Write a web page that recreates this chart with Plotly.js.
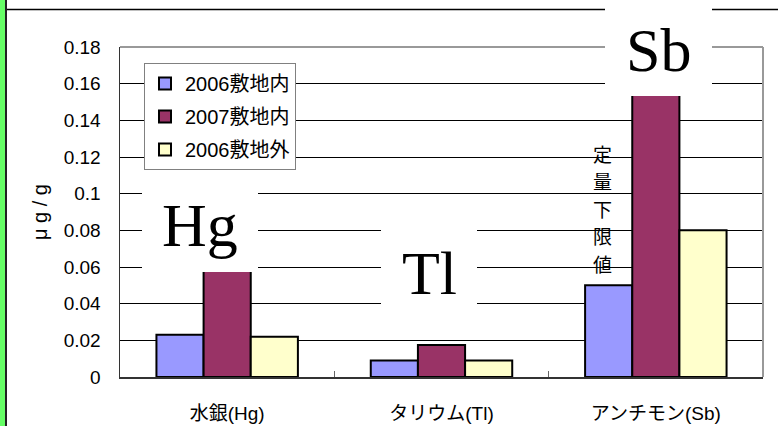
<!DOCTYPE html>
<html>
<head>
<meta charset="utf-8">
<script src="https://cdn.plot.ly/plotly-3.0.1.min.js"></script>
<style>html,body{margin:0;padding:0;background:#fff;}#chart{width:778px;height:426px;}</style>
</head>
<body>
<div id="chart"></div>
<script>
// ---- data ----
const categories = ['水銀(Hg)', 'タリウム(Tl)', 'アンチモン(Sb)'];
const seriesNames = ['2006敷地内', '2007敷地内', '2006敷地外'];
const values2006in = [0.023, 0.009, 0.050];
const values2007in = [0.058, 0.0175, 0.160];
const values2006out = [0.022, 0.009, 0.080];
const yTickVals = [0, 0.02, 0.04, 0.06, 0.08, 0.1, 0.12, 0.14, 0.16, 0.18];
const yTickText = ['0', '0.02', '0.04', '0.06', '0.08', '0.1', '0.12', '0.14', '0.16', '0.18'];
const elementLabels = ['Hg', 'Tl', 'Sb'];
const lodChars = ['定', '量', '下', '限', '値'];
const yTitle = 'μ g / g';

// ---- styling / layout geometry ----
const W = 778, H = 426;
const M = {l: 120, r: 15, t: 47, b: 49};
const PW = W - M.l - M.r, PH = H - M.t - M.b;
const px = x => (x - M.l) / PW;
const py = y => (H - M.b - y) / PH;
const colors = ['#9999FF', '#993366', '#FFFFCC'];
const sans = 'Liberation Sans, Arial, Noto Sans CJK JP, sans-serif';

const seriesValues = [values2006in, values2007in, values2006out];
const traces = seriesValues.map((vals, i) => ({
  type: 'bar',
  name: seriesNames[i],
  x: categories,
  y: vals,
  legendgroup: 'g' + i,
  marker: {color: colors[i], line: {color: '#000', width: 2}}
}));

// label boxes (pixel rects) and text centres
const labelBoxes = [
  {x0: 142, x1: 258, y0: 175, y1: 272, cx: 200, cy: 225},
  {x0: 381, x1: 477, y0: 205, y1: 320, cx: 429, cy: 273},
  {x0: 605, x1: 712, y0: 0, y1: 96, cx: 658, cy: 50}
];

const shapes = [
  {type: 'rect', xref: 'paper', yref: 'paper', x0: px(0), x1: px(5), y0: py(0), y1: py(H), fillcolor: '#66FF66', line: {width: 0}},
  {type: 'line', xref: 'paper', yref: 'paper', x0: px(6), x1: px(6), y0: py(0), y1: py(H), line: {color: '#222', width: 2}},
  {type: 'line', xref: 'paper', yref: 'paper', x0: px(7), x1: px(W), y0: py(9.5), y1: py(9.5), line: {color: '#000', width: 1.5}},
  {type: 'line', xref: 'paper', yref: 'paper', x0: 0, x1: 1, y0: 1, y1: 1, line: {color: '#999', width: 2}, layer: 'above'},
  {type: 'line', xref: 'paper', yref: 'paper', x0: 1, x1: 1, y0: 0, y1: 1, line: {color: '#999', width: 2}, layer: 'above'}
];
labelBoxes.forEach(b => shapes.push({
  type: 'rect', xref: 'paper', yref: 'paper', layer: 'above',
  x0: px(b.x0), x1: px(b.x1), y0: py(b.y1), y1: py(b.y0),
  fillcolor: '#fff', line: {width: 0}
}));

const annotations = [];
labelBoxes.forEach((b, i) => annotations.push({
  xref: 'paper', yref: 'paper', x: px(b.cx), y: py(b.cy),
  xanchor: 'center', yanchor: 'middle', showarrow: false,
  text: elementLabels[i],
  font: {family: 'Liberation Serif, Times New Roman, serif', size: 62, color: '#000'}
}));
lodChars.forEach((c, i) => annotations.push({
  xref: 'paper', yref: 'paper', x: px(602), y: py(153 + i * 27.5),
  xanchor: 'center', yanchor: 'middle', showarrow: false,
  text: c, font: {family: 'Noto Sans CJK JP, sans-serif', size: 19, color: '#000'}
}));

const layout = {
  width: W, height: H,
  margin: M,
  paper_bgcolor: '#fff', plot_bgcolor: '#fff',
  barmode: 'group', bargap: 0.34, bargroupgap: 0,
  showlegend: true,
  legend: {
    x: px(144), y: py(63), xanchor: 'left', yanchor: 'top',
    bgcolor: '#fff', bordercolor: '#808080', borderwidth: 1,
    font: {family: sans, size: 20, color: '#000'},
    traceorder: 'grouped', tracegroupgap: 4
  },
  xaxis: {
    showline: true, linecolor: '#333', linewidth: 1.5,
    ticks: 'inside', tickson: 'boundaries', ticklen: 6, tickcolor: '#666', tickwidth: 1.5,
    ticklabelstandoff: 19,
    tickfont: {family: sans, size: 19, color: '#000'},
    showgrid: false, zeroline: false, fixedrange: true
  },
  yaxis: {
    range: [0, 0.18], tickvals: yTickVals, ticktext: yTickText,
    showline: true, linecolor: '#333', linewidth: 1.5,
    ticks: '', ticklabelstandoff: 14,
    showgrid: true, gridcolor: '#000', gridwidth: 1, zeroline: false,
    tickfont: {family: sans, size: 19, color: '#000'},
    title: {text: yTitle, font: {family: sans, size: 20, color: '#000'}, standoff: 10},
    fixedrange: true
  },
  shapes: shapes,
  annotations: annotations,
  hovermode: false
};

Plotly.newPlot('chart', traces, layout, {staticPlot: true, displayModeBar: false});
</script>
</body>
</html>
